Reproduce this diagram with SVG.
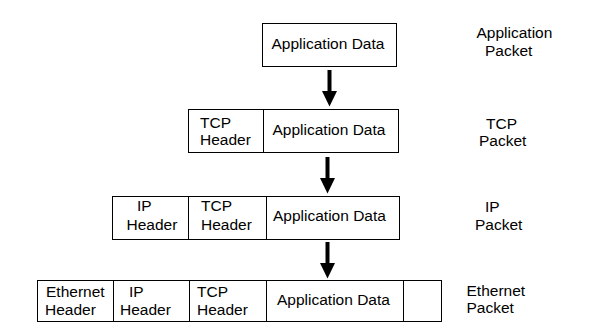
<svg xmlns="http://www.w3.org/2000/svg" width="591" height="333" viewBox="0 0 591 333">
  <style>
    .cell { fill: #ffffff; stroke: #000000; stroke-width: 1; shape-rendering: crispEdges; }
    .t { font-family: "Liberation Sans", Arial, sans-serif; font-size: 15.5px; fill: #000000; }
    .shaft { stroke: #000000; stroke-width: 4; }
    .head { fill: #000000; }
  </style>
  <rect width="591" height="333" fill="#ffffff"/>

  <!-- Application packet -->
  <g id="app-packet">
    <rect class="cell" x="262.5" y="23.5" width="134" height="43"/>
    <text class="t" x="271.5" y="48.5">Application Data</text>
  </g>

  <!-- TCP packet -->
  <g id="tcp-packet">
    <rect class="cell" x="188.5" y="109.5" width="75" height="43"/>
    <rect class="cell" x="263.5" y="109.5" width="135" height="43"/>
    <text class="t" x="200" y="127.5">TCP</text>
    <text class="t" x="200" y="145">Header</text>
    <text class="t" x="272.5" y="134.5">Application Data</text>
  </g>

  <!-- IP packet -->
  <g id="ip-packet">
    <rect class="cell" x="112.5" y="196.5" width="76" height="43"/>
    <rect class="cell" x="188.5" y="196.5" width="78" height="43"/>
    <rect class="cell" x="266.5" y="196.5" width="133" height="43"/>
    <text class="t" x="137" y="211">IP</text>
    <text class="t" x="126.5" y="230">Header</text>
    <text class="t" x="201" y="211">TCP</text>
    <text class="t" x="201" y="230">Header</text>
    <text class="t" x="273" y="221">Application Data</text>
  </g>

  <!-- Ethernet frame -->
  <g id="ethernet-packet">
    <rect class="cell" x="37.5" y="280.5" width="76" height="41"/>
    <rect class="cell" x="113.5" y="280.5" width="76" height="41"/>
    <rect class="cell" x="189.5" y="280.5" width="77" height="41"/>
    <rect class="cell" x="266.5" y="280.5" width="137" height="41"/>
    <rect class="cell" x="403.5" y="280.5" width="38" height="41"/>
    <text class="t" x="46" y="297">Ethernet</text>
    <text class="t" x="45" y="314.5">Header</text>
    <text class="t" x="129" y="297">IP</text>
    <text class="t" x="120" y="314.5">Header</text>
    <text class="t" x="197" y="297">TCP</text>
    <text class="t" x="197" y="314.5">Header</text>
    <text class="t" x="277" y="304.5">Application Data</text>
  </g>

  <!-- Layer labels -->
  <g id="labels">
    <text class="t" x="476.5" y="38">Application</text>
    <text class="t" x="485" y="55.5">Packet</text>
    <text class="t" x="486" y="128.5">TCP</text>
    <text class="t" x="479" y="146">Packet</text>
    <text class="t" x="485" y="212">IP</text>
    <text class="t" x="475" y="229.5">Packet</text>
    <text class="t" x="466.5" y="295.5">Ethernet</text>
    <text class="t" x="466.5" y="313">Packet</text>
  </g>

  <!-- Encapsulation arrows -->
  <g id="connectors">
    <line class="shaft" x1="329.5" y1="70" x2="329.5" y2="95"/>
    <polygon class="head" points="322,91 337,91 329.5,106.5"/>
    <line class="shaft" x1="327.5" y1="157" x2="327.5" y2="182"/>
    <polygon class="head" points="320,178 335,178 327.5,193.5"/>
    <line class="shaft" x1="327.5" y1="242" x2="327.5" y2="267"/>
    <polygon class="head" points="320,263 335,263 327.5,278.5"/>
  </g>
</svg>
